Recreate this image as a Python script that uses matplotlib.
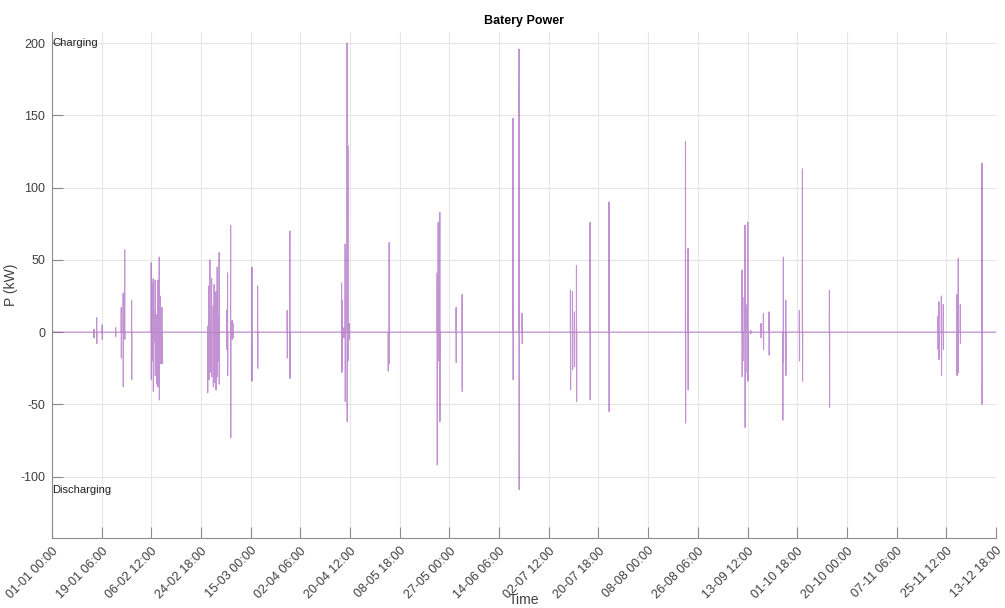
import numpy as np
import pandas as pd
import matplotlib
matplotlib.use('Agg')
import matplotlib.pyplot as plt

plt.rcParams['font.family'] = ['Liberation Sans', 'DejaVu Sans']
plt.rcParams['axes.unicode_minus'] = False

# hour of year where each charge/discharge burst happens, with its peak and trough (kW)
event_hours = [370, 394, 443, 561, 611, 628, 641, 702,
               875, 881, 893, 899, 910, 923, 932, 946, 952, 969,
               1372, 1384, 1392, 1407, 1422, 1430, 1445, 1457, 1466, 1474,
               1540, 1548, 1575, 1589, 1595,
               1763, 1813, 2074, 2097,
               2553, 2558, 2573, 2585, 2602, 2609, 2620,
               2964, 2973, 3396, 3405, 3419, 3563, 3616,
               4065, 4118, 4145,
               4571, 4589, 4606, 4624, 4744, 4911,
               5585, 5608,
               6084, 6090, 6110, 6128, 6134, 6160, 6251, 6272, 6322,
               6442, 6448, 6469, 6589, 6616, 6854,
               7811, 7819, 7841, 7858, 7978, 7990, 8008, 8199]
event_peak = [2, 10, 5, 3, 17, 27, 57, 22,
              48, 34, 37, 14, 36, 12, 36, 52, 25, 17,
              4, 32, 50, 37, 18, 33, 28, 45, 10, 55,
              15, 41, 74, 8, 6,
              45, 32, 15, 70,
              34, 22, 3, 61, 200, 129, 6,
              0, 62, 41, 76, 83, 17, 26,
              148, 196, 13,
              29, 28, 14, 46, 76, 90,
              132, 58,
              43, 24, 74, 19, 76, 1, 6, 13, 14,
              0, 52, 22, 15, 113, 29,
              11, 21, 25, 19, 26, 51, 19, 117]
event_trough = [-4, -8, -5, -3, -18, -38, -5, -33,
                -33, -20, -41, -7, -30, -36, -38, -47, -22, -22,
                -42, -33, -28, -31, -38, -35, -40, -31, -20, -36,
                -12, -30, -73, -5, -4,
                -34, -25, -18, -32,
                -28, -27, -4, -48, -62, -20, -5,
                -27, -22, -92, -20, -62, -21, -41,
                -33, -109, -8,
                -40, -26, -24, -48, -47, -55,
                -63, -40,
                -31, -20, -66, -28, -34, -1, -4, -12, -16,
                -61, -21, -30, -20, -34, -52,
                -12, -19, -30, -12, -30, -28, -8, -50]

n_hours = 8323
tick_step = 438

# hourly battery power series
power = np.zeros(n_hours)
for h, up, down in zip(event_hours, event_peak, event_trough):
    power[h] = up
    power[h + 1] = down

times = pd.date_range('2019-01-01 00:00', periods=8760, freq='h')
tick_pos = np.arange(0, 8760, tick_step)
tick_lab = [times[i].strftime('%d-%m %H:%M') for i in tick_pos]

fig = plt.figure(figsize=(10.05, 6.08), dpi=100, facecolor='w')
ax = fig.add_axes([0.0517, 0.115, 0.9393, 0.832])

ax.plot(np.arange(n_hours), power, color='#9239b0', alpha=0.55, lw=0.8)

ax.set_xlim(0, tick_pos[-1])
ax.set_ylim(-142.6, 207.6)
ax.set_xticks(tick_pos)
ax.set_xticklabels(tick_lab, rotation=45, ha='right', rotation_mode='anchor')
ax.set_yticks([-100, -50, 0, 50, 100, 150, 200])

ax.grid(True, color='#e6e6e6', lw=0.8)
ax.set_axisbelow(True)
for s in ['top', 'right']:
    ax.spines[s].set_visible(False)
for s in ['left', 'bottom']:
    ax.spines[s].set_color('#8c8c8c')
ax.tick_params(direction='in', length=8, color='#8c8c8c', labelcolor='#404040',
               labelsize=9, pad=5)

ax.text(0, 200, 'Charging', fontsize=8, va='center', ha='left', color='#202020')
ax.text(0, -109, 'Discharging', fontsize=8, va='center', ha='left', color='#202020')

ax.set_title('Batery Power', fontsize=9, fontweight='bold', pad=6)
fig.text(0.5214, 0.001, 'Time', fontsize=10, color='#404040', ha='center', va='bottom')
ax.set_ylabel('P (kW)', fontsize=10, color='#404040')
ax.yaxis.set_label_coords(-0.036, 0.5)

plt.savefig('out.png', dpi=100, facecolor='w')
